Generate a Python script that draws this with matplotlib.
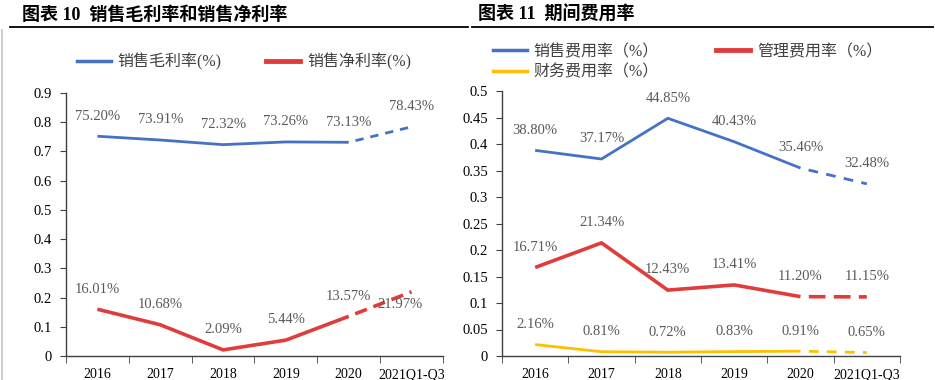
import matplotlib
matplotlib.use("Agg")
import matplotlib.pyplot as plt
from matplotlib.lines import Line2D

plt.rcParams['font.family'] = ['Liberation Serif', 'Noto Sans CJK SC']
plt.rcParams['lines.scale_dashes'] = False

#---- data
cats = ['2016', '2017', '2018', '2019', '2020', '2021Q1-Q3']
gross = [0.7520, 0.7391, 0.7232, 0.7326, 0.7313, 0.7843]
net = [0.1601, 0.1068, 0.0209, 0.0544, 0.1357, 0.2197]
sell = [0.3880, 0.3717, 0.4485, 0.4043, 0.3546, 0.3248]
admin = [0.1671, 0.2134, 0.1243, 0.1341, 0.1120, 0.1115]
fin = [0.0216, 0.0081, 0.0072, 0.0083, 0.0091, 0.0065]

BLUE = '#4472C4'
RED = '#E03C3C'
YEL = '#FFC000'
LBL = '#595959'

W, H = 935, 380
fig = plt.figure(figsize=(W / 100, H / 100), dpi=100)

#---- titles and rules
fig.text(22/W, 1-15/H, '图表 10  销售毛利率和销售净利率', fontsize=13, fontweight='bold',
         va='center', ha='left', color='black')
fig.text(478/W, 1-15/H, '图表 11  期间费用率', fontsize=13, fontweight='bold',
         va='center', ha='left', color='black')
fig.add_artist(Line2D([10/W, 468/W], [1-27/H, 1-27/H], color='black', lw=1.3))
fig.add_artist(Line2D([472/W, 933/W], [1-27/H, 1-27/H], color='black', lw=1.3))
fig.add_artist(Line2D([2/W, 2/W], [0, 1-30/H], color='#d0d0d0', lw=1.5))


def setup(ax, ymax, step, fmt):
    x = list(range(len(cats)))
    ax.set_xlim(-0.5, len(cats) - 0.5)
    ax.set_ylim(0, ymax)
    ticks = [i * step for i in range(int(round(ymax / step)) + 1)]
    ax.set_yticks(ticks)
    ax.set_yticklabels([fmt(t) for t in ticks], fontsize=10.5)
    ax.set_xticks(x)
    ax.set_xticklabels(cats, fontsize=10)
    ax.set_xticks([i - 0.5 for i in range(len(cats) + 1)], minor=True)
    ax.tick_params(axis='x', which='major', length=0, pad=9)
    ax.tick_params(axis='x', which='minor', length=5, direction='out', color='#404040')
    ax.tick_params(axis='y', length=4, direction='out', color='#404040', pad=6)
    for s in ['top', 'right']:
        ax.spines[s].set_visible(False)
    for s in ['left', 'bottom']:
        ax.spines[s].set_color('#404040')
        ax.spines[s].set_linewidth(1)


def draw(ax, vals, color, lw, dash, offsets=None):
    x = list(range(len(vals)))
    ax.plot(x[:5], vals[:5], color=color, lw=lw, solid_capstyle='butt', solid_joinstyle='miter')
    ax.plot(x[4:], vals[4:], color=color, lw=lw, linestyle=(dash[0], dash),
            dash_capstyle='butt')
    for i, v in enumerate(vals):
        off = (0, 14.5)
        if offsets and i in offsets:
            off = offsets[i]
        ax.annotate('%.2f%%' % (v * 100), (i, v), xytext=off, textcoords='offset points',
                    ha='center', va='center', fontsize=10.5, color=LBL)


def legend(ax, handles, labels, x, y, ncol, colsp):
    ax.legend(handles, labels, loc='upper left', bbox_to_anchor=(x/W, 1-y/H),
              bbox_transform=fig.transFigure, ncol=ncol, frameon=False, fontsize=11.5,
              handlelength=2.1, handletextpad=0.45, columnspacing=colsp,
              labelspacing=0.3, borderpad=0, borderaxespad=0, labelcolor='#404040')


#---- left chart
ax1 = fig.add_axes([66/W, 24/H, 377/W, 263/H])
setup(ax1, 0.9, 0.1, lambda t: '0' if t == 0 else ('%.1f' % t))
draw(ax1, gross, BLUE, 2.0, (6, 5))
draw(ax1, net, RED, 2.6, (9, 5), offsets={5: (-8, -9)})

lh = [Line2D([], [], color=BLUE, lw=2.5), Line2D([], [], color=RED, lw=3.5)]
legend(ax1, lh, ['销售毛利率(%)', '销售净利率(%)'], 77, 53, 2, 2.8)

#---- right chart
ax2 = fig.add_axes([502/W, 24/H, 398/W, 265/H])
setup(ax2, 0.5, 0.05, lambda t: '0' if t == 0 else ('%.2f' % t).rstrip('0'))
draw(ax2, sell, BLUE, 2.0, (7, 6))
draw(ax2, admin, RED, 2.6, (12, 6))
draw(ax2, fin, YEL, 2.0, (7, 6))

# column-first fill: blue / yellow in col 1, red in col 2
lh2 = [Line2D([], [], color=BLUE, lw=2.5), Line2D([], [], color=YEL, lw=2.5),
       Line2D([], [], color=RED, lw=3.5)]
legend(ax2, lh2, ['销售费用率（%）', '财务费用率（%）', '管理费用率（%）'], 493, 44, 2, 3.6)

fig.savefig('out.png', dpi=100)
